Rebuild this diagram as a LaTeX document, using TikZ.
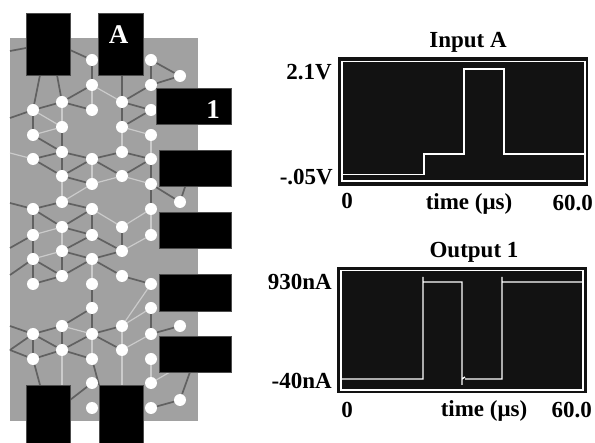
\documentclass[tikz,border=0pt]{standalone}
\usepackage{fontspec}
\setmainfont{Liberation Serif}
\pgfdeclarelayer{bg}\pgfdeclarelayer{wires}
\pgfsetlayers{bg,wires,main}
\definecolor{chip}{gray}{0.63}
\definecolor{plotbg}{gray}{0.07}
\tikzset{
  dot/.style={circle,fill=white,draw=none,inner sep=0pt,minimum size=12pt},
  link/.style={draw=black!62,line width=1.7pt},
  faint/.style={draw=white!45!chip,line width=1.2pt},
  pad/.style={fill=black,draw=black!70,line width=0.5pt},
  lab/.style={font=\fontsize{23}{25}\selectfont\bfseries,inner sep=0pt},
  padlab/.style={font=\fontsize{27}{29}\selectfont\bfseries,text=white,inner sep=0pt},
  trace/.style={draw=white,line width=1.3pt,line join=miter},
  frame/.style={draw=white,line width=1.3pt},
  scope/.style={fill=plotbg,draw=none}
}
\begin{document}
\begin{tikzpicture}[x=1pt,y=-1pt]
\useasboundingbox (0,0) rectangle (595,443);
% dots
\foreach \c/\x/\ys in {
 a/33/{110,135,159,209,235,259,284,334,359},
 b/62/{102,127,152,176,202,227,251,276,326,350},
 c/92/{60,85,110,159,184,209,235,259,284,308,334,359,383,408},
 d/122/{102,127,152,176,227,251,276,326,350},
 e/151/{60,85,110,135,159,184,209,235,284,308,334,359,383,408},
 f/180/{76,202,326,400}}{
  \foreach \y in \ys { \node[dot] (\c\y) at (\x,\y) {}; }
}
% free ends
\foreach \n/\x/\y in {L1/10/51,L2/10/118,L3/10/153,L4/10/203,L5/10/248,L6/10/275,L7/10/326,L8/10/350,
 T1/40/75,T2/57/75,T3/70/50,T4/122/75,T5/185/187,T6/40/385,T7/99/385,T8/70/400,T9/190/372,
 T10/26/48,T11/62/385,T12/122/385,T13/170/372,T14/92/385}{
  \coordinate (\n) at (\x,\y);
}
\begin{pgfonlayer}{bg}
\node[fill=chip,draw=none,inner sep=0pt,minimum width=188pt,minimum height=383pt] (chipbody) at (104,229.5) {};
\end{pgfonlayer}
\begin{pgfonlayer}{wires}
\foreach \p/\q in {c85/c110,b127/a135,d127/e135,b176/b202,c184/b202,d176/c184,d227/e209,
 b227/b251,a235/b227,c209/d227,b326/c334,d326/d350,d350/e334,c334/c359,d350/T12,
 e359/e383,e383/T13,b350/T11,d127/d152,c159/c184,e135/e159,a110/b127,
 b251/a259,c259/c284,d251/e235,e235/e209,e284/d326,d102/c85,
 b102/b127,d176/e184,e308/d326,a159/L3}{
  \draw[faint] (\p) -- (\q);
}
\foreach \p/\q in {L1/T10,T3/c60,c60/c85,c85/b102,T1/a110,T2/b102,b102/a110,b102/c110,
 T4/d102,d102/d127,d102/e85,d102/e110,d127/e110,e60/e85,e60/f76,e85/f76,a110/a135,a135/b152,b127/b152,a110/L2,
 a159/b152,a159/b176,b152/b176,b176/c159,c159/d176,c159/b152,d152/c159,d152/e159,d176/e159,b176/c184,
 e159/e184,e184/f202,e184/e209,f202/T5,b202/a209,b202/c209,a209/L4,a209/b227,c209/b227,c209/c235,a209/a235,
 b227/c235,c235/b251,c235/d251,d227/d251,a235/L5,a259/L6,a235/a259,a259/b276,b251/c259,b251/b276,c259/d251,c259/b276,c259/d276,
 a284/a259,a284/b276,d276/e284,c284/c308,c308/b326,c308/c334,b326/a334,b326/b350,a334/L7,a334/b350,a334/a359,a334/L8,L8/a359,
 a359/b350,b350/c334,b350/c359,c334/d326,c334/d350,c359/T7,a359/T6,T8/c383,e308/e334,e334/f326,f400/T9,e408/f400}{
  \draw[link] (\p) -- (\q);
}
\end{pgfonlayer}
% pads
\node[pad,inner sep=0pt,minimum width=44pt,minimum height=62pt] (p1) at (48,44) {};
\node[pad,inner sep=0pt,minimum width=45pt,minimum height=62pt] (p2) at (120.5,44) {};
\node[pad,inner sep=0pt,minimum width=75pt,minimum height=36pt] (p3) at (193.5,106) {};
\node[pad,inner sep=0pt,minimum width=72pt,minimum height=36pt] (p4) at (195,168) {};
\node[pad,inner sep=0pt,minimum width=72pt,minimum height=36pt] (p5) at (195,230) {};
\node[pad,inner sep=0pt,minimum width=72pt,minimum height=37pt] (p6) at (195,292.5) {};
\node[pad,inner sep=0pt,minimum width=72pt,minimum height=36pt] (p7) at (195,354) {};
\node[pad,inner sep=0pt,minimum width=44pt,minimum height=58pt] (p8) at (48,414) {};
\node[pad,inner sep=0pt,minimum width=44pt,minimum height=58pt] (p9) at (121,414) {};
\node[padlab] (tA) at (118.5,35) {A};
\node[padlab] (t1) at (213,110) {1};
% Input plot
\fill[scope] (338,57) rectangle (588,186);
\draw[frame] (342,61.5) rectangle (585,181);
\draw[trace,line width=1pt] (342,175) -- (424,175);
\draw[trace] (424,175) -- (424,154) -- (464,154) -- (464,69) -- (504,69) -- (504,154) -- (585,154);
\node[lab] (ti) at (468,42) {Input A};
\node[lab,anchor=east] (y1) at (332,72) {2.1V};
\node[lab,anchor=east] (y2) at (333,177) {-.05V};
\node[lab] (x1) at (347,201) {0};
\node[lab] (x2) at (469,204) {time (μs)};
\node[lab,anchor=east] (x3) at (593,203) {60.0};
% Output plot
\fill[scope] (337,267) rectangle (587,393);
\draw[frame] (341,270.5) rectangle (583,390);
\draw[trace] (341,379) -- (423,379) -- (423,277) (423,282) -- (462,282) -- (462,385) (462,379) -- (465,377) (465,379) -- (502,379) -- (502,277) (502,282) -- (583,282);
\node[lab] (to) at (474,252) {Output 1};
\node[lab,anchor=east] (y3) at (332,282) {930nA};
\node[lab,anchor=east] (y4) at (332,381) {-40nA};
\node[lab] (x4) at (347,410) {0};
\node[lab] (x5) at (484,411) {time (μs)};
\node[lab,anchor=east] (x6) at (592,410) {60.0};
\end{tikzpicture}
\end{document}
